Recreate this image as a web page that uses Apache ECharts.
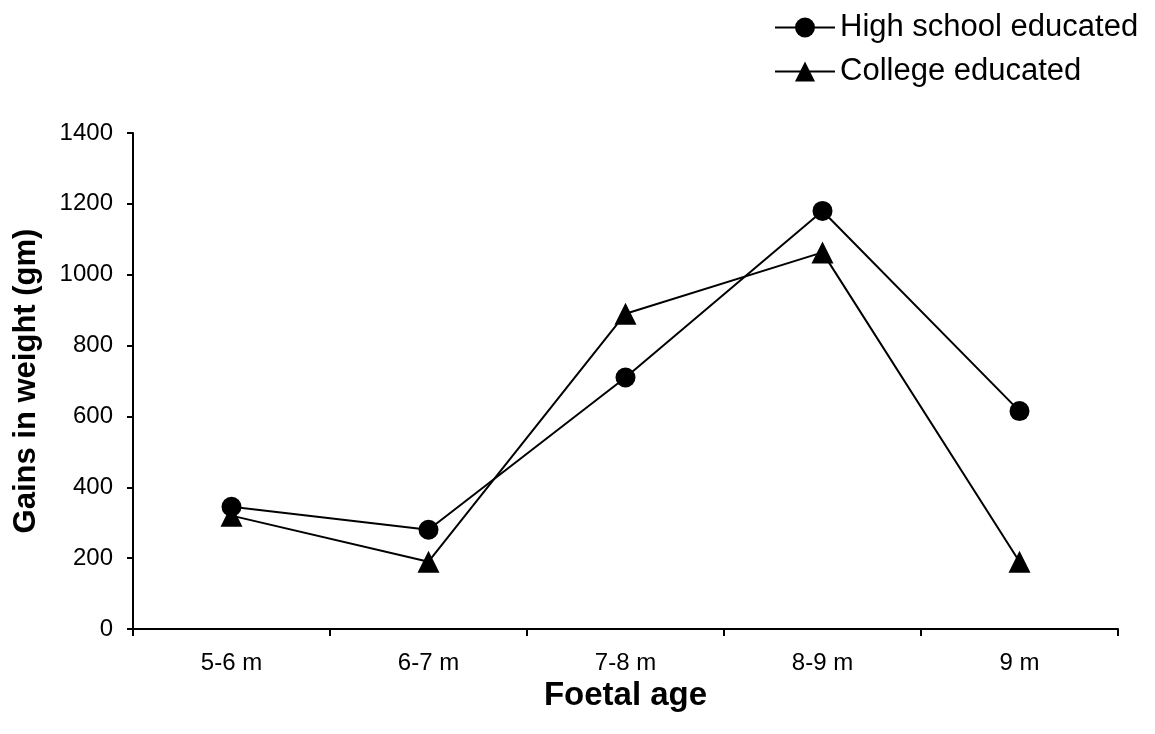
<!DOCTYPE html>
<html>
<head>
<meta charset="utf-8">
<script src="https://cdn.jsdelivr.net/npm/echarts@6/dist/echarts.min.js"></script>
<style>
  html, body { margin: 0; padding: 0; background: #fff; }
  #chart { width: 1155px; height: 734px; }
</style>
</head>
<body>
<div id="chart"></div>
<script>
// Foetal age groups and weight gains (gm) by mother's education
const categories = ['5-6 m', '6-7 m', '7-8 m', '8-9 m', '9 m'];
const highSchool = [345, 280, 710, 1180, 615];
const college = [320, 190, 890, 1063, 190];
const yTicks = { min: 0, max: 1400, interval: 200 };

const FONT = 'Liberation Sans, Arial, sans-serif';
const chart = echarts.init(document.getElementById('chart'));

chart.setOption({
  backgroundColor: '#fff',
  animation: false,
  textStyle: { fontFamily: FONT, color: '#000' },
  legend: {
    orient: 'vertical',
    left: 769,
    top: 7,
    itemWidth: 60,
    itemHeight: 25,
    itemGap: 13,
    textStyle: { fontSize: 31, color: '#000', fontFamily: FONT },
    data: [
      { name: 'High school educated' },
      { name: 'College educated' }
    ]
  },
  grid: { left: 133, right: 37, top: 133, bottom: 105 },
  xAxis: {
    type: 'category',
    data: categories,
    boundaryGap: true,
    name: 'Foetal age',
    nameLocation: 'middle',
    nameGap: 43,
    nameTextStyle: { fontSize: 33, fontWeight: 'bold', color: '#000', fontFamily: FONT },
    axisLine: { lineStyle: { color: '#000', width: 2 } },
    axisTick: { show: true, alignWithLabel: false, inside: false, length: 7, lineStyle: { color: '#000', width: 2 } },
    axisLabel: { fontSize: 24, color: '#000', margin: 22, fontFamily: FONT },
    splitLine: { show: false }
  },
  yAxis: {
    type: 'value',
    min: yTicks.min,
    max: yTicks.max,
    interval: yTicks.interval,
    name: 'Gains in weight (gm)',
    nameLocation: 'middle',
    nameGap: 91,
    nameRotate: 90,
    nameTextStyle: { fontSize: 31, fontWeight: 'bold', color: '#000', fontFamily: FONT },
    axisLine: { show: true, lineStyle: { color: '#000', width: 2 } },
    axisTick: { show: true, inside: false, length: 6, lineStyle: { color: '#000', width: 2 } },
    axisLabel: { fontSize: 24, color: '#000', margin: 20, fontFamily: FONT, formatter: v => String(v) },
    splitLine: { show: false }
  },
  series: [
    {
      name: 'High school educated',
      type: 'line',
      data: highSchool,
      symbol: 'circle',
      symbolSize: 20,
      itemStyle: { color: '#000' },
      lineStyle: { color: '#000', width: 2 }
    },
    {
      name: 'College educated',
      type: 'line',
      data: college,
      symbol: 'triangle',
      symbolSize: 22,
      itemStyle: { color: '#000' },
      lineStyle: { color: '#000', width: 2 }
    }
  ]
});
</script>
</body>
</html>
